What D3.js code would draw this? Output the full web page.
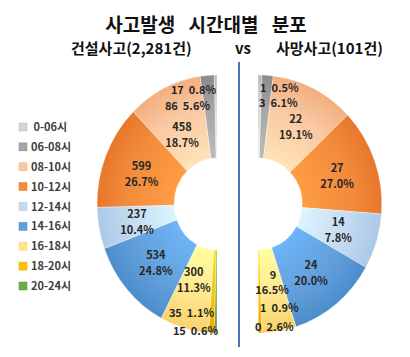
<!DOCTYPE html>
<html><head><meta charset="utf-8">
<script src="https://cdn.jsdelivr.net/npm/d3@7"></script>
<style>
html,body{margin:0;padding:0;background:#fff;}
svg{display:block;font-family:"Noto Sans CJK KR","Noto Sans",sans-serif;}
</style></head>
<body>
<svg id="c" width="410" height="357"></svg>
<script>
const categories = ["0-06시","06-08시","08-10시","10-12시","12-14시","14-16시","16-18시","18-20시","20-24시"];
const constructionCounts = [17, 86, 458, 599, 237, 534, 300, 35, 15];
const constructionPct = ["0.8%","5.6%","18.7%","26.7%","10.4%","24.8%","11.3%","1.1%","0.6%"];
const fatalCounts = [1, 3, 22, 27, 14, 24, 9, 1, 0];
const fatalPct = ["0.5%","6.1%","19.1%","27.0%","7.8%","20.0%","16.5%","0.9%","2.6%"];
const colors = ["#D4D4D4","#A5A5A5","#F9C8A2","#F28B3C","#C2D9EF","#619FDA","#FFE48C","#FFC000","#70AD47"];
const colorsDark = ["#B8B8B8","#8A8A8A","#F2AE7C","#E8762A","#A9C8E8","#4C8CCB","#F8D26A","#E8A800","#5A9438"];

const svg = d3.select("#c");
const defs = svg.append("defs");
categories.forEach((c,i)=>{
  const g = defs.append("radialGradient").attr("id","g"+i)
    .attr("gradientUnits","userSpaceOnUse").attr("cx",0).attr("cy",0).attr("r",130);
  g.append("stop").attr("offset","35%").attr("stop-color",d3.color(colors[i]).brighter(0.35));
  g.append("stop").attr("offset","75%").attr("stop-color",colors[i]);
  g.append("stop").attr("offset","100%").attr("stop-color",colorsDark[i]);
});

// Title
svg.append("text").attr("x",206).attr("y",32).attr("text-anchor","middle")
  .attr("font-size",19).attr("font-weight","bold").attr("fill","#111")
  .attr("word-spacing",9).text("사고발생 시간대별 분포");
svg.append("text").attr("x",71).attr("y",54).attr("font-size",15).attr("font-weight","bold").attr("fill","#111").text("건설사고(2,281건)");
svg.append("text").attr("x",243).attr("y",54).attr("text-anchor","middle").attr("font-size",15).attr("font-weight","bold").attr("fill","#111").text("vs");
svg.append("text").attr("x",276).attr("y",54).attr("font-size",15).attr("font-weight","bold").attr("fill","#111").text("사망사고(101건)");

// Divider
svg.append("line").attr("x1",239).attr("x2",239).attr("y1",62).attr("y2",347)
  .attr("stroke","#4A74B8").attr("stroke-width",2);

const ry = 129, ryIn = 46;

function halfDonut(values, pcts, cx, sx, dir, nudge){
  const pie = d3.pie().sort(null).value(d=>d)
    .startAngle(0).endAngle(dir*Math.PI);
  const arcs = pie(values);
  const arc = d3.arc().innerRadius(ryIn).outerRadius(ry);
  const g = svg.append("g").attr("transform",`translate(${cx},204) scale(${sx},1)`);
  g.selectAll("path").data(arcs).join("path")
    .attr("d",arc)
    .attr("fill",(d,i)=>`url(#g${i})`)
    .attr("stroke","rgba(255,255,255,0.6)").attr("stroke-width",0.6);
  const lab = svg.append("g").attr("font-size",11).attr("font-weight","bold").attr("fill","#262626");
  const total = d3.sum(values);
  arcs.forEach((a,i)=>{
    const frac = values[i]/total;
    if (frac > 0.05 && !(dir>0 && i===6)) {
      const [x,y] = arc.centroid(a);
      const [nx,ny] = nudge[i] || [0,0];
      const t = lab.append("text").attr("text-anchor","middle");
      t.append("tspan").attr("x",cx+x*sx+nx).attr("y",204+y-3+ny).text(values[i]);
      t.append("tspan").attr("x",cx+x*sx+nx).attr("y",204+y+13+ny).text(pcts[i]);
    }
  });
  return {lab, arcs};
}

const L = halfDonut(constructionCounts, constructionPct, 217, 0.93, -1, {2:[1,9],3:[0,2],6:[-1,-9]});
const R = halfDonut(fatalCounts, fatalPct, 258, 0.96, 1, {});

const top0 = 204 - ry, bot0 = 204 + ry;
function small(lab, x, y, anchor, v, p){
  lab.append("text").attr("x",x).attr("y",y).attr("text-anchor",anchor)
    .style("white-space","pre").text(v+"  "+p);
}
small(L.lab, 216, top0+19, "end", constructionCounts[0], constructionPct[0]);
small(L.lab, 210, top0+35, "end", constructionCounts[1], constructionPct[1]);
small(L.lab, 214, bot0-16, "end", constructionCounts[7], constructionPct[7]);
small(L.lab, 218, bot0+2, "end", constructionCounts[8], constructionPct[8]);

small(R.lab, 260, top0+17, "start", fatalCounts[0], fatalPct[0]);
small(R.lab, 259, top0+32, "start", fatalCounts[1], fatalPct[1]);
R.lab.append("text").attr("x",273).attr("y",279).attr("text-anchor","middle").text(fatalCounts[6]);
R.lab.append("text").attr("x",272).attr("y",294).attr("text-anchor","middle").text(fatalPct[6]);
small(R.lab, 260, bot0-21, "start", fatalCounts[7], fatalPct[7]);
small(R.lab, 255, bot0-2, "start", fatalCounts[8], fatalPct[8]);

// Legend
const ly = d3.scalePoint().domain(categories).range([127,286]);
const leg = svg.append("g");
categories.forEach((c,i)=>{
  const y = ly(c);
  leg.append("rect").attr("x",19).attr("y",y-4).attr("width",8).attr("height",8)
    .attr("fill",colors[i]).attr("stroke",colorsDark[i]).attr("stroke-width",0.5);
  leg.append("text").attr("x",31).attr("y",y+4).attr("font-size",11).attr("font-weight","bold")
    .attr("fill","#404040").style("white-space","pre").text((i===0?" ":"")+c);
});
</script>
</body></html>
